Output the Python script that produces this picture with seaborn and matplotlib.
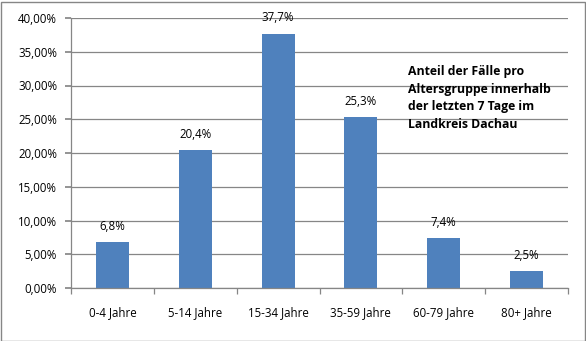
import matplotlib
matplotlib.use("Agg")
import matplotlib.pyplot as plt
from matplotlib.patches import Rectangle
from matplotlib.ticker import FuncFormatter, FixedLocator
import seaborn as sns
import pandas as pd

categories = ["0-4 Jahre", "5-14 Jahre", "15-34 Jahre", "35-59 Jahre", "60-79 Jahre", "80+ Jahre"]
values = [6.8, 20.4, 37.7, 25.3, 7.4, 2.5]
labels = ["6,8%", "20,4%", "37,7%", "25,3%", "7,4%", "2,5%"]
yticks = [0, 5, 10, 15, 20, 25, 30, 35, 40]

sns.set_theme(style="white")
plt.rcParams["font.family"] = ["Open Sans", "DejaVu Sans"]

df = pd.DataFrame({"Altersgruppe": categories, "Anteil": values})

fig = plt.figure(figsize=(5.86, 3.41), dpi=100)
ax = fig.add_axes([71 / 586, 1 - 288 / 341, (568 - 71) / 586, (288 - 18) / 341])

sns.barplot(data=df, x="Altersgruppe", y="Anteil", color="#4F81BD", saturation=1,
            width=0.4, linewidth=0, ax=ax)

ax.set_ylim(0, 40)
ax.set_xlim(-0.5, len(categories) - 0.5)
ax.yaxis.set_major_locator(FixedLocator(yticks))
ax.yaxis.set_major_formatter(FuncFormatter(lambda v, p: f"{v:.2f}".replace(".", ",") + "%"))
ax.grid(axis="y", color="#868686", linewidth=0.9)
ax.set_axisbelow(True)
ax.set_xlabel("")
ax.set_ylabel("")

for s in ["top", "right"]:
    ax.spines[s].set_visible(False)
for s in ["left", "bottom"]:
    ax.spines[s].set_color("#868686")
    ax.spines[s].set_linewidth(0.9)

ax.tick_params(axis="y", which="major", left=True, length=4, color="#868686",
               labelsize=8.3, labelcolor="black", pad=6)
ax.tick_params(axis="x", which="major", bottom=False, labelsize=8.3,
               labelcolor="black", pad=7)
ax.set_xticks([i + 0.5 for i in range(-1, len(categories))], minor=True)
ax.tick_params(axis="x", which="minor", bottom=True, length=4, color="#868686", width=0.9)

for i, (v, lab) in enumerate(zip(values, labels)):
    ax.text(i, v + 1.4, lab, ha="center", va="bottom", fontsize=8.3, color="black")

fig.text(408 / 586, 1 - 65 / 341,
         "Anteil der Fälle pro\nAltersgruppe innerhalb\nder letzten 7 Tage im\nLandkreis Dachau",
         ha="left", va="top", fontsize=8.8, fontweight="bold", linespacing=1.45,
         color="black")

fig.patches.append(Rectangle((0.5 / 586, 0.5 / 341), 584 / 586, 339 / 341,
                             transform=fig.transFigure, fill=False,
                             edgecolor="#868686", linewidth=1))

fig.savefig("out.png", dpi=100)
